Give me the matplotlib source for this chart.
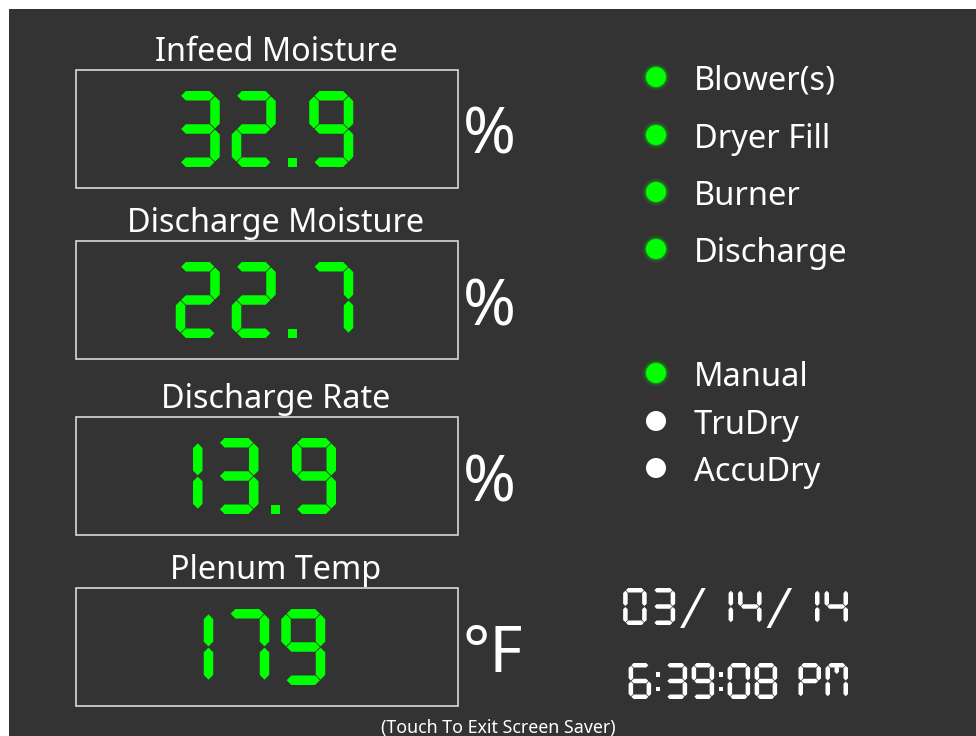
import matplotlib
matplotlib.use("Agg")
import matplotlib.pyplot as plt
from matplotlib.patches import Polygon, Rectangle, Circle

plt.rcParams['font.family'] = ['Noto Sans', 'DejaVu Sans']

# readings shown in the four boxes
titles = ["Infeed Moisture", "Discharge Moisture", "Discharge Rate", "Plenum Temp"]
values = ["32.9", "22.7", "13.9", "179"]
units = ["%", "%", "%", "°F"]

# indicator lamps: (name, on?)
lamp_names = ["Blower(s)", "Dryer Fill", "Burner", "Discharge", "Manual", "TruDry", "AccuDry"]
lamp_on = [True, True, True, True, True, False, False]

date_text = "03/ 14/ 14"
time_text = "6:39:08 PM"
footer = "(Touch To Exit Screen Saver)"

BG = "#333333"
GREEN = "#00ff00"

# which segments each character lights (a top, b upper right, c lower right,
# d bottom, e lower left, f upper left, g middle)
SEGS = {
    "0": "abcdef", "1": "bc", "2": "abged", "3": "abgcd", "4": "fgbc",
    "5": "afgcd", "6": "afgedc", "7": "abc", "8": "abcdefg", "9": "abcdfg",
    "P": "abefg", "M": "abcef",
}


def hseg(a, b, c, t, g):
    return [(a + g, c), (a + g + t / 2, c - t / 2), (b - g - t / 2, c - t / 2),
            (b - g, c), (b - g - t / 2, c + t / 2), (a + g + t / 2, c + t / 2)]


def vseg(a, b, c, t, g):
    return [(c, a + g), (c + t / 2, a + g + t / 2), (c + t / 2, b - g - t / 2),
            (c, b - g), (c - t / 2, b - g - t / 2), (c - t / 2, a + g + t / 2)]


def glyph_width(ch, w, t):
    if ch in "1.:":
        return t
    if ch == "/":
        return w + 2
    if ch == " ":
        return w * 0.55
    return w


def draw_char(ax, ch, x0, y0, w, h, t, g, color):
    if ch == " ":
        return
    if ch == ".":
        ax.add_patch(Rectangle((x0, y0 + h - t), t, t, color=color, lw=0))
        return
    if ch == ":":
        for fy in (0.32, 0.72):
            ax.add_patch(Rectangle((x0, y0 + h * fy - t / 2), t, t, color=color, lw=0))
        return
    if ch == "/":
        ax.add_patch(Polygon([(x0, y0 + h + 3), (x0 + t * 0.9, y0 + h + 3),
                              (x0 + w + 2, y0), (x0 + w + 2 - t * 0.9, y0)],
                             closed=True, color=color, lw=0))
        return
    cw = t if ch == "1" else w
    xl, xr = x0 + t / 2, x0 + cw - t / 2
    yt, ym, yb = y0 + t / 2, y0 + h / 2, y0 + h - t / 2
    shapes = {
        "a": hseg(xl, xr, yt, t, g), "g": hseg(xl, xr, ym, t, g), "d": hseg(xl, xr, yb, t, g),
        "f": vseg(yt, ym, xl, t, g), "e": vseg(ym, yb, xl, t, g),
        "b": vseg(yt, ym, xr, t, g), "c": vseg(ym, yb, xr, t, g),
    }
    for s in SEGS[ch]:
        ax.add_patch(Polygon(shapes[s], closed=True, color=color, lw=0))
    if ch == "M":
        xm = x0 + w / 2
        ax.add_patch(Polygon(vseg(yt, y0 + h * 0.32, xm, t, g), closed=True, color=color, lw=0))


def draw_seg_text(ax, text, x, y0, w, h, t, gap, color, align="center"):
    widths = [glyph_width(c, w, t) for c in text]
    total = sum(widths) + gap * (len(text) - 1)
    if align == "center":
        cur = x - total / 2
    else:
        cur = x - total
    for ch, cw in zip(text, widths):
        draw_char(ax, ch, cur, y0, w, h, t, g=0.6 if t > 6 else 0.5, color=color)
        cur += cw + gap


fig = plt.figure(figsize=(9.76, 7.36), dpi=100, facecolor="white")
ax = fig.add_axes([0, 0, 1, 1])
ax.set_xlim(0, 976)
ax.set_ylim(736, 0)
ax.axis("off")
ax.add_patch(Rectangle((9, 9), 976, 736, color=BG, lw=0))

# reading boxes
box_tops = [70, 241, 417, 588]
box_h = 118
for title, val, unit, top in zip(titles, values, units, box_tops):
    ax.add_patch(Rectangle((76, top), 382, box_h, fill=False, ec="#d8d8d8", lw=1.2))
    ax.text(276, top - 9, title, color="white", fontsize=23.3, ha="center", va="baseline")
    draw_seg_text(ax, val, 264.5, top + box_h / 2 - 38, 44, 76, 9.5, 12, GREEN)
    ax.text(463, top + 84, unit, color="white", fontsize=46, ha="left", va="baseline")

# indicator lamps
lamp_y = [77, 135, 192, 249, 373, 421, 468]
for name, on, y in zip(lamp_names, lamp_on, lamp_y):
    if on:
        for r, a in [(14, 0.06), (12.5, 0.12), (11.2, 0.25)]:
            ax.add_patch(Circle((656, y), r, color=GREEN, alpha=a, lw=0))
        ax.add_patch(Circle((656, y), 10, color=GREEN, lw=0))
    else:
        ax.add_patch(Circle((656, y), 10, color="white", lw=0))
    ax.text(694, y + 13, name, color="white", fontsize=23.5, ha="left", va="baseline")

# date and time
draw_seg_text(ax, date_text, 848, 588, 23.5, 37, 4.5, 5, "white", align="right")
draw_seg_text(ax, time_text, 848, 663, 22.5, 36, 4.5, 4.5, "white", align="right")

ax.text(498, 733, footer, color="white", fontsize=12.8, ha="center", va="baseline")

fig.savefig("out.png", dpi=100, facecolor=fig.get_facecolor())
